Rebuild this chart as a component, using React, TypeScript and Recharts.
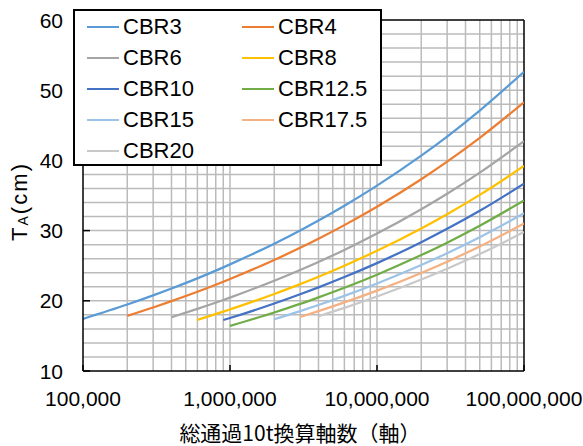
import React from "react";
import {
  LineChart,
  Line,
  XAxis,
  YAxis,
  CartesianGrid,
  ReferenceLine,
} from "recharts";

// 総通過10t換算軸数
const counts = [1e5, 2e5, 3e5, 4e5, 6e5, 9e5, 1e6, 2e6, 3e6, 4e6, 6e6, 1e7, 2e7, 3e7, 5e7, 1e8];

const cbr3 = [17.43, 19.47, 20.77, 21.75, 23.2, 24.76, 25.19, 28.14, 30.03, 31.44, 33.55, 36.41, 40.68, 43.4, 47.1, 52.63];
const cbr4 = [null, 17.86, 19.05, 19.95, 21.28, 22.72, 23.11, 25.82, 27.55, 28.84, 30.78, 33.4, 37.32, 39.82, 43.21, 48.28];
const cbr6 = [null, null, null, 17.66, 18.85, 20.11, 20.46, 22.86, 24.39, 25.54, 27.25, 29.57, 33.04, 35.25, 38.26, 42.74];
const cbr8 = [null, null, null, null, 17.29, 18.45, 18.77, 20.97, 22.37, 23.43, 25.0, 27.13, 30.31, 32.34, 35.09, 39.21];
const cbr10 = [null, null, null, null, null, 17.26, 17.55, 19.61, 20.93, 21.91, 23.38, 25.37, 28.35, 30.25, 32.82, 36.67];
const cbr125 = [null, null, null, null, null, null, 16.41, 18.34, 19.56, 20.49, 21.86, 23.72, 26.51, 28.28, 30.69, 34.29];
const cbr15 = [null, null, null, null, null, null, null, 17.37, 18.53, 19.4, 20.7, 22.47, 25.1, 26.78, 29.06, 32.47];
const cbr175 = [null, null, null, null, null, null, null, null, 17.69, 18.52, 19.77, 21.45, 23.97, 25.57, 27.75, 31.0];
const cbr20 = [null, null, null, null, null, null, null, null, null, 17.8, 18.99, 20.61, 23.03, 24.57, 26.66, 29.79];

const seriesNames = ["CBR3", "CBR4", "CBR6", "CBR8", "CBR10", "CBR12.5", "CBR15", "CBR17.5", "CBR20"];
const seriesValues = [cbr3, cbr4, cbr6, cbr8, cbr10, cbr125, cbr15, cbr175, cbr20];
const seriesColors = ["#5B9BD5", "#ED7D31", "#A5A5A5", "#FFC000", "#4472C4", "#70AD47", "#9DC3E6", "#F4B183", "#C9C9C9"];

const xTicks = [1e5, 1e6, 1e7, 1e8];
const yTicks = [10, 20, 30, 40, 50, 60];
const xGrid = [
  2e5, 3e5, 4e5, 5e5, 6e5, 7e5, 8e5, 9e5, 1e6,
  2e6, 3e6, 4e6, 5e6, 6e6, 7e6, 8e6, 9e6, 1e7,
  2e7, 3e7, 4e7, 5e7, 6e7, 7e7, 8e7, 9e7,
];
const yGrid = [12, 14, 16, 18, 20, 22, 24, 26, 28, 30, 32, 34, 36, 38, 40, 42, 44, 46, 48, 50, 52, 54, 56, 58];

const data = counts.map((n, i) => {
  const row: Record<string, number | null> = { n };
  seriesNames.forEach((name, k) => {
    row[name] = seriesValues[k][i];
  });
  return row;
});

const FONT = "'Liberation Sans', Arial, 'Noto Sans CJK JP', sans-serif";
const JP_FONT = "'Noto Sans CJK JP', 'Liberation Sans', sans-serif";

const XTick = (props: any) => {
  const { x, y, payload } = props;
  return (
    <g>
      <line x1={x} y1={y} x2={x} y2={y - 6} stroke="#000" strokeWidth={1.5} />
      <text x={x} y={y + 27} textAnchor="middle" dominantBaseline="central" fontSize={21} fill="#000" fontFamily={FONT}>
        {payload.value.toLocaleString("en-US")}
      </text>
    </g>
  );
};

const YTick = (props: any) => {
  const { x, y, payload } = props;
  return (
    <g>
      <line x1={x} y1={y} x2={x + 7} y2={y} stroke="#000" strokeWidth={1.5} />
      <text x={x - 20} y={y} textAnchor="end" dominantBaseline="central" fontSize={21} fill="#000" fontFamily={FONT}>
        {payload.value}
      </text>
    </g>
  );
};

function LegendBox() {
  return (
    <div
      style={{
        position: "absolute",
        left: 73,
        top: 9,
        width: 309,
        height: 157,
        boxSizing: "border-box",
        border: "2px solid #000",
        background: "#fff",
        fontFamily: FONT,
        fontSize: 22,
        color: "#000",
      }}
    >
      {seriesNames.map((name, i) => {
        const col = i % 2;
        const row = Math.floor(i / 2);
        return (
          <div
            key={name}
            style={{
              position: "absolute",
              left: col === 0 ? 12 : 167,
              top: 1 + row * 31,
              height: 30,
              display: "flex",
              alignItems: "center",
              whiteSpace: "nowrap",
            }}
          >
            <span style={{ display: "inline-block", width: 32, height: 2.5, background: seriesColors[i], marginRight: 4 }} />
            <span style={{ lineHeight: "30px" }}>{name}</span>
          </div>
        );
      })}
    </div>
  );
}

export default function App() {
  return (
    <div style={{ position: "absolute", left: 0, top: 0, width: 583, height: 446, background: "#fff" }}>
      <LineChart width={583} height={446} data={data} margin={{ top: 20, right: 59, bottom: 0, left: 0 }}>
        <CartesianGrid
          stroke="#BBBBBB"
          strokeWidth={1.5}
          horizontalValues={yGrid}
          verticalValues={xGrid}
        />
        <XAxis
          dataKey="n"
          type="number"
          scale="log"
          domain={[1e5, 1e8]}
          ticks={xTicks}
          allowDataOverflow
          height={75}
          tickSize={0}
          tickMargin={0}
          tickLine={false}
          axisLine={{ stroke: "#000", strokeWidth: 1.5 }}
          tick={<XTick />}
          interval={0}
          label={{
            content: () => (
              <text
                x={300}
                y={432}
                textAnchor="middle"
                dominantBaseline="central"
                fontSize={21}
                fill="#000"
                fontFamily={JP_FONT}
              >
                総通過10t換算軸数（軸）
              </text>
            ),
          }}
        />
        <YAxis
          type="number"
          domain={[10, 60]}
          ticks={yTicks}
          width={83}
          tickSize={0}
          tickMargin={0}
          tickLine={false}
          axisLine={{ stroke: "#000", strokeWidth: 1.5 }}
          tick={<YTick />}
          interval={0}
          label={{
            content: () => (
              <g transform="translate(19, 241) rotate(-90)">
                <text
                  x={0}
                  y={0}
                  textAnchor="start"
                  dominantBaseline="central"
                  fontSize={22}
                  fill="#000"
                  fontFamily={FONT}
                  textLength={77}
                  lengthAdjust="spacing"
                >
                  <tspan>T</tspan>
                  <tspan fontSize={14} dy={4}>A</tspan>
                  <tspan dy={-4}>(cm)</tspan>
                </text>
              </g>
            ),
          }}
        />
        <ReferenceLine y={60} stroke="#000" strokeWidth={1.5} />
        <ReferenceLine x={1e8} stroke="#000" strokeWidth={1.5} />
        {seriesNames.map((name, i) => (
          <Line
            key={name}
            dataKey={name}
            type="monotone"
            stroke={seriesColors[i]}
            strokeWidth={2.25}
            dot={false}
            activeDot={false}
            isAnimationActive={false}
          />
        ))}
      </LineChart>
      <LegendBox />
    </div>
  );
}
